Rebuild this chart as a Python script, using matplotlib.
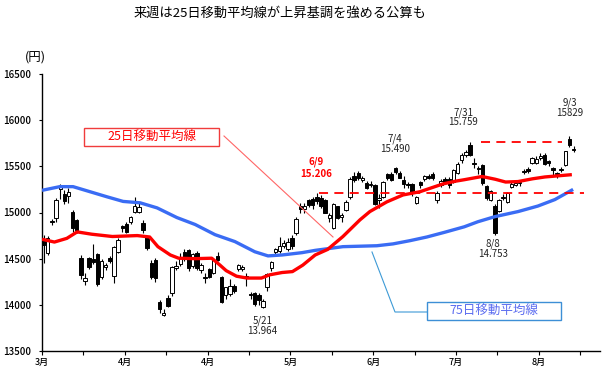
import numpy as np
import matplotlib
matplotlib.use("Agg")
import matplotlib.pyplot as plt
from matplotlib.patches import Rectangle
from matplotlib.lines import Line2D

plt.rcParams['font.family'] = ['Noto Sans CJK JP', 'DejaVu Sans']

# --- DATA (trading-day index from 3/3) ---
opens = [14690, 14560, 14905, 14945, 15250, 15200, 15180, 15010, 14920, 14510,
         14260, 14510, 14500, 14550, 14305, 14410, 14510, 14315, 14575, 14850,
         14880, 14900, 15010, 15010, 14890, 14730, 14455, 14490, 14035, 13885,
         14075, 14130, 14400, 14440, 14575, 14595, 14420, 14565, 14375, 14300,
         14390, 14340, 14530, 14305, 14110, 14120, 14200, 14390, 14390, 14315,
         14120, 14130, 14110, 13980, 14190, 14400, 14570, 14580, 14640, 14600,
         14725, 14780, 15075, 15040, 15140, 15150, 15170, 15160, 15140, 14945,
         14835, 15065, 14950, 15030, 15170, 15400, 15430, 15350, 15320, 15300,
         15300, 15130, 15170, 15420, 15420, 15480, 15430, 15350, 15310, 15310,
         15100, 15330, 15360, 15400, 15420, 15130, 15300, 15360, 15360, 15335,
         15430, 15570, 15625, 15735, 15540, 15485, 15515, 15290, 15140, 15075,
         15020, 15170, 15115, 15280, 15300, 15320, 15440, 15470, 15540, 15540,
         15590, 15620, 15560, 15480, 15420, 15460, 15515, 15800, 15690]
highs = [14760, 14750, 14930, 15160, 15312, 15240, 15260, 15030, 14930, 14540,
         14350, 14520, 14660, 14560, 14500, 14450, 14530, 14640, 14720, 14870,
         14900, 14960, 15170, 15100, 14920, 14740, 14490, 14510, 14050, 13950,
         14110, 14420, 14480, 14560, 14600, 14600, 14560, 14580, 14450, 14345,
         14400, 14500, 14575, 14310, 14195, 14280, 14230, 14440, 14430, 14340,
         14140, 14140, 14130, 14060, 14345, 14480, 14620, 14740, 14700, 14720,
         14760, 14950, 15100, 15100, 15150, 15170, 15206, 15190, 15150, 15000,
         15105, 15070, 15000, 15140, 15380, 15440, 15450, 15400, 15340, 15340,
         15310, 15200, 15340, 15430, 15440, 15490, 15450, 15400, 15330, 15320,
         15180, 15340, 15410, 15420, 15440, 15230, 15360, 15380, 15380, 15470,
         15550, 15640, 15680, 15759, 15590, 15500, 15520, 15300, 15240, 15090,
         15150, 15200, 15220, 15330, 15340, 15350, 15470, 15490, 15600, 15610,
         15640, 15640, 15570, 15490, 15440, 15490, 15670, 15829, 15720]
lows = [14450, 14540, 14860, 14900, 15150, 15090, 15100, 14790, 14780, 14280,
        14220, 14390, 14440, 14200, 14280, 14380, 14450, 14240, 14560, 14790,
        14780, 14880, 14990, 14990, 14780, 14590, 14280, 14250, 13915, 13880,
        13980, 14100, 14380, 14420, 14480, 14370, 14400, 14380, 14350, 14240,
        14290, 14330, 14480, 14020, 14060, 14100, 14130, 14370, 14370, 14200,
        14060, 13990, 14000, 13964, 14150, 14370, 14550, 14560, 14620, 14580,
        14600, 14760, 15000, 15000, 15060, 15040, 15090, 15050, 14990, 14900,
        14820, 14930, 14900, 15020, 15150, 15330, 15350, 15330, 15250, 15280,
        15080, 15050, 15160, 15350, 15340, 15420, 15370, 15270, 15270, 15180,
        15090, 15270, 15340, 15360, 15350, 15100, 15280, 15310, 15270, 15320,
        15420, 15540, 15600, 15610, 15480, 15420, 15300, 15130, 15120, 14753,
        15010, 15130, 15100, 15260, 15290, 15290, 15420, 15430, 15520, 15520,
        15570, 15510, 15500, 15400, 15370, 15440, 15500, 15710, 15660]
closes = [14652, 14721, 14897, 15134, 15274, 15120, 15224, 14830, 14815, 14327,
          14290, 14411, 14462, 14224, 14480, 14430, 14477, 14622, 14700, 14827,
          14791, 14946, 15065, 15063, 14808, 14620, 14300, 14290, 13950, 13915,
          13990, 14415, 14420, 14516, 14512, 14400, 14546, 14404, 14430, 14290,
          14304, 14485, 14490, 14033, 14190, 14199, 14149, 14435, 14405, 14298,
          14110, 14006, 14050, 14042, 14337, 14462, 14602, 14636, 14670, 14681,
          14632, 14935, 15034, 15069, 15085, 15077, 15124, 15069, 15000, 14973,
          15097, 14945, 14975, 15115, 15361, 15349, 15369, 15376, 15266, 15308,
          15095, 15162, 15326, 15369, 15348, 15437, 15379, 15314, 15302, 15216,
          15164, 15296, 15395, 15379, 15370, 15215, 15343, 15328, 15300, 15457,
          15529, 15620, 15660, 15625, 15523, 15474, 15320, 15160, 15232, 14778,
          15130, 15161, 15213, 15314, 15318, 15330, 15449, 15454, 15586, 15580,
          15613, 15521, 15534, 15459, 15424, 15476, 15668, 15728, 15676]

ma25_x = [0, 3, 6, 8.5, 12, 17, 23, 26, 28, 31, 33, 37, 41, 43, 44.5, 47, 49.5,
          53, 55, 58, 60.5, 63, 66, 69, 72.7, 76.8, 79.2, 83.3, 87.2, 91.3, 96.9,
          100, 102, 106.3, 109.5, 112, 115, 118.5, 121.5, 128]
ma25_y = [14710, 14680, 14720, 14790, 14765, 14740, 14750, 14735, 14630, 14540,
          14505, 14500, 14505, 14430, 14370, 14310, 14290, 14290, 14325, 14350,
          14360, 14430, 14540, 14600, 14740, 14920, 15010, 15115, 15190, 15225,
          15310, 15340, 15355, 15390, 15360, 15330, 15335, 15365, 15385, 15410]

ma75_x = [0, 4.3, 7.5, 11.6, 15.7, 19.6, 23.7, 27.8, 32.6, 37, 41.8, 46.6, 51.4,
          54.6, 58, 62.8, 66, 72.7, 80.9, 84.8, 88.9, 93, 97.2, 102, 105.3,
          109.4, 115, 119.8, 123.9, 128.3]
ma75_y = [15240, 15280, 15280, 15225, 15170, 15120, 15105, 15050, 14945, 14870,
          14760, 14685, 14575, 14530, 14540, 14565, 14590, 14630, 14640, 14660,
          14695, 14735, 14785, 14845, 14900, 14955, 15010, 15070, 15140, 15250]

# reference levels (dashed)
support_level = 15206
support_span = (67, 131)
resist_level = 15759
resist_span = (106, 125.6)

# point labels: (x index, y of date line, y of price line, date, price, colour)
point_labels = [
    (66.2, 15550, 15420, "6/9", "15.206", "#ff0000"),
    (85.3, 15800, 15690, "7/4", "15.490", "#222222"),
    (101.8, 16080, 15975, "7/31", "15.759", "#222222"),
    (127.5, 16190, 16080, "9/3", "15829", "#222222"),
    (109.0, 14660, 14555, "8/8", "14.753", "#222222"),
    (53.3, 13830, 13720, "5/21", "13.964", "#222222"),
]

xtick_pos = [0, 20, 40, 60, 80, 100, 120]
xtick_labels = ["3月", "4月", "4月", "5月", "6月", "7月", "8月"]
yticks = [13500, 14000, 14500, 15000, 15500, 16000, 16500]

title = "来週は25日移動平均線が上昇基調を強める公算も"

# --- FIGURE ---
W, H = 606, 373
fig = plt.figure(figsize=(W / 100, H / 100), dpi=100)
ax = fig.add_axes([42 / W, 22 / H, 558 / W, 277 / H])


def fx(px):
    return px / W


def fy(py):
    return 1 - py / H


# --- CANDLES ---
xs = np.arange(len(closes)) + 0.4
bw = 0.82
for xi, o, h, l, c in zip(xs, opens, highs, lows, closes):
    ax.vlines(xi, l, h, color="black", lw=0.8, zorder=2)
    fc = "white" if c >= o else "black"
    ax.add_patch(Rectangle((xi - bw / 2, min(o, c)), bw, max(abs(c - o), 6),
                           facecolor=fc, edgecolor="black", lw=0.7, zorder=3))

# --- MOVING AVERAGES ---
ax.plot(ma75_x, ma75_y, color="#3a6cf4", lw=2.4, zorder=4, solid_capstyle="butt")
ax.plot(ma25_x, ma25_y, color="#ff0000", lw=2.4, zorder=4, solid_capstyle="butt")

ax.hlines(support_level, *support_span, colors="#ff0000", lw=1.3,
          linestyles=(0, (5, 3.5)), zorder=5)
ax.hlines(resist_level, *resist_span, colors="#ff0000", lw=1.3,
          linestyles=(0, (5, 3.5)), zorder=5)

for xi, y1, y2, d, p, col in point_labels:
    wt = "bold" if col != "#222222" else "normal"
    ax.text(xi, y1, d, ha="center", va="center", fontsize=7, color=col, fontweight=wt)
    ax.text(xi, y2, p, ha="center", va="center", fontsize=7, color=col, fontweight=wt)

# --- AXES ---
ax.set_xlim(0, 134.8)
ax.set_ylim(13500, 16500)
ax.spines["top"].set_visible(False)
ax.spines["right"].set_visible(False)
ax.spines["left"].set_linewidth(1)
ax.spines["bottom"].set_linewidth(1)

ax.set_yticks(yticks)
ax.set_yticklabels([str(v) for v in yticks], fontsize=7, fontweight="medium")
ax.set_xticks(range(0, 131, 10))
lab = dict(zip(xtick_pos, xtick_labels))
ax.set_xticklabels([lab.get(t, "") for t in range(0, 131, 10)], fontsize=6.5,
                   fontweight="medium")
ax.tick_params(axis="y", direction="out", length=2, pad=6)
ax.tick_params(axis="x", direction="out", length=3, pad=2)

# --- TEXT ---
fig.text(fx(280), fy(13), title, ha="center", va="center", fontsize=9.5)
fig.text(fx(35), fy(57), "(円)", ha="center", va="center", fontsize=9)

# callout: 25-day MA
fig.add_artist(Rectangle((fx(84), fy(146)), fx(219) - fx(84), fy(128) - fy(146),
                         transform=fig.transFigure, facecolor="white",
                         edgecolor="#f03c3c", lw=1))
fig.text(fx(151.5), fy(137), "25日移動平均線", ha="center", va="center",
         fontsize=9, color="#ff0000")
fig.add_artist(Line2D([fx(224), fx(333)], [fy(136), fy(237)],
                      transform=fig.transFigure, color="#ff6666", lw=0.8))

# callout: 75-day MA
fig.add_artist(Rectangle((fx(427), fy(320)), fx(561) - fx(427), fy(302) - fy(320),
                         transform=fig.transFigure, facecolor="white",
                         edgecolor="#3d8fd6", lw=1))
fig.text(fx(494), fy(311), "75日移動平均線", ha="center", va="center",
         fontsize=9, color="#5b6cf0")
fig.add_artist(Line2D([fx(372), fx(395), fx(427)], [fy(252), fy(312), fy(312)],
                      transform=fig.transFigure, color="#3d9ad6", lw=0.8))

fig.savefig("out.png", dpi=100)
plt.close(fig)
